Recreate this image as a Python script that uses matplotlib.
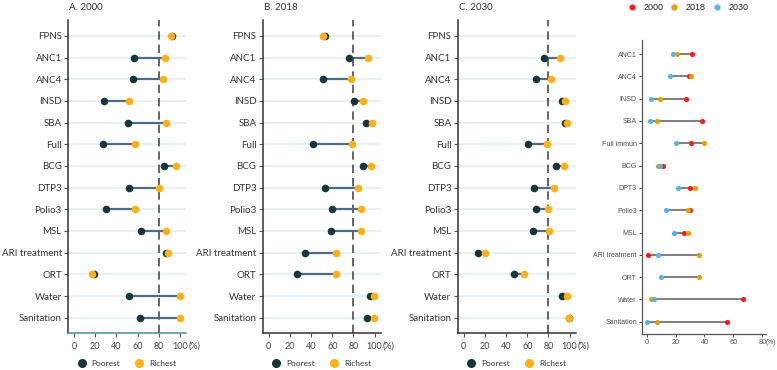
import matplotlib
matplotlib.use('Agg')
import matplotlib.pyplot as plt
from matplotlib.lines import Line2D
from matplotlib.patches import Patch
import numpy as np

nan = np.nan

# indicators used in panel A-C
cats = ['FPNS', 'ANC1', 'ANC4', 'INSD', 'SBA', 'Full', 'BCG', 'DTP3',
        'Polio3', 'MSL', 'ARI treatment', 'ORT', 'Water', 'Sanitation']

poor_2000 = [93, 57, 56, 28, 50.5, 27.6, 85, 52, 30, 63.5, 87, 18.4, 52, 62]
rich_2000 = [91.5, 86, 84, 52, 87, 57.5, 96, 80.6, 58, 87, 88.5, 17, 100, 100]
poor_2018 = [53, 76, 51, 81, 92, 42, 89.5, 53.5, 59.5, 58.5, 34, 27, 95.6, 92.7]
rich_2018 = [51.3, 94, 77.5, 89, 98, 79, 97, 84, 87, 86.7, 63.6, 63.6, 99.4, 99.4]
poor_2030 = [nan, 76, 68, 92.4, 96, 61, 87, 66, 68, 65, 13.6, 47, 92.4, 99]
rich_2030 = [nan, 91, 82, 95.6, 97.8, 78.5, 94.6, 85, 80, 81, 20, 57, 97.5, 99.4]

titles = ['A. 2000', 'B. 2018', 'C. 2030']
xticks = [0, 20, 40, 60, 80, 100]

# gap between richest and poorest (right panel)
gap_cats = ['ANC1', 'ANC4', 'INSD', 'SBA', 'Full immun', 'BCG', 'DPT3',
            'Polio3', 'MSL', 'ARI treatment', 'ORT', 'Water', 'Sanitation']
gap_2000 = [31.1, 29, 27, 38.5, 30.9, 11.5, 30, 29.8, 25.8, 1.2, nan, 66.4, 55.4]
gap_2018 = [21, 30.4, 9.2, 7.4, 39.4, 7.6, 33.4, 28.4, 28.6, 36.2, 36.4, 3, 7.4]
gap_2030 = [18, 15.9, 3.2, 2.5, 20.3, 9.5, 21.9, 13.4, 19.1, 8, 10, 5.3, 0.5]
gap_years = ['2000', '2018', '2030']
gap_ticks = [0, 20, 40, 60, 80]

POOR = '#17363a'
RICH = '#fbb117'
SEG = '#4d6b87'
GRID = '#e2ecf1'
TXT = '#333333'
YEAR_COLS = ['#ff1a1a', '#e69f00', '#56b4e9']
ARIAL = ['Liberation Sans', 'DejaVu Sans']

plt.rcParams['font.family'] = ['Lato', 'DejaVu Sans']

fig = plt.figure(figsize=(7.77, 3.70), dpi=100)

lefts = [68 / 777, 262.7 / 777, 457.7 / 777]
panels = [(poor_2000, rich_2000), (poor_2018, rich_2018), (poor_2030, rich_2030)]
y = np.arange(len(cats))

for k in range(3):
    ax = fig.add_axes([lefts[k], 0.0992, 118 / 777, 0.847])
    poor, rich = panels[k]
    for i in range(len(cats)):
        ax.axhline(y[i], color=GRID, lw=1.1, zorder=0)
    ax.axvline(80, color='#4a4a4a', lw=1.2, ls=(0, (5, 3)), zorder=1)
    ax.hlines(y, poor, rich, color=SEG, lw=1.6, zorder=2)
    ax.scatter(poor, y, s=30, color=POOR, zorder=3, linewidths=0)
    ax.scatter(rich, y, s=30, color=RICH, zorder=4, linewidths=0)

    ax.set_xlim(-5.8, 105.8)
    ax.set_ylim(13.72, -0.74)
    ax.set_yticks(y)
    ax.set_yticklabels(cats, fontsize=7, color=TXT)
    ax.set_xticks(xticks)
    ax.set_xticklabels([str(t) for t in xticks], fontsize=6.5, color='#444444')
    ax.tick_params(axis='y', length=3, width=0.8, color='#555555', pad=1.5)
    ax.tick_params(axis='x', length=3, width=0.8, color='#555555', pad=3)
    ax.annotate('(%)', xy=(100, 0), xycoords=('data', 'axes fraction'),
                xytext=(6, -6), textcoords='offset points', ha='left', va='top',
                fontsize=6.5, color='#444444')

    for s in ['top', 'right']:
        ax.spines[s].set_visible(False)
    ax.spines['left'].set_color('#333333')
    ax.spines['left'].set_linewidth(1.1)
    ax.spines['bottom'].set_color('#4a8b9a' if k == 0 else '#333333')
    ax.spines['bottom'].set_linewidth(1.1)

    ax.text(0.01, 1.041, titles[k], transform=ax.transAxes, fontsize=7,
            color=TXT, ha='left', va='center')

    handles = [Line2D([], [], ls='', marker='o', ms=5.5, color=POOR, label='Poorest'),
               Line2D([], [], ls='', marker='o', ms=5.5, color=RICH, label='Richest')]
    ax.legend(handles=handles, loc='center', bbox_to_anchor=(0.5, -0.096), ncol=2,
              frameon=False, fontsize=6, handlelength=1.0, handletextpad=0.7,
              columnspacing=1.8, labelcolor=TXT)

# right panel: gap, ggplot look
axd = fig.add_axes([641.7 / 777, 0.0973, 124 / 777, 0.7946])
yd = np.arange(len(gap_cats))
g = np.array([gap_2000, gap_2018, gap_2030])
lo = np.nanmin(g, axis=0)
hi = np.nanmax(g, axis=0)
axd.hlines(yd, lo, hi, color='#5c5c5c', lw=1.1, zorder=1)
for j in range(3):
    axd.scatter(g[j], yd, s=14, color=YEAR_COLS[j], zorder=2 + j, linewidths=0)

axd.set_xlim(-3.5, 82.4)
axd.set_ylim(12.55, -0.63)
axd.set_yticks(yd)
axd.set_yticklabels(gap_cats, fontsize=5, color='#4d4d4d', family=ARIAL)
axd.set_xticks(gap_ticks)
axd.set_xticklabels([str(t) for t in gap_ticks], fontsize=5.2, color='#4d4d4d', family=ARIAL)
axd.tick_params(length=2, width=0.6, color='#333333', pad=1.5)
axd.annotate('(%)', xy=(80, 0), xycoords=('data', 'axes fraction'),
             xytext=(2.3, -3.5), textcoords='offset points', ha='left', va='top',
             fontsize=4.8, color='#4d4d4d', family=ARIAL)
for s in ['top', 'right']:
    axd.spines[s].set_visible(False)
axd.spines['left'].set_color('#555555')
axd.spines['bottom'].set_color('#555555')
axd.spines['left'].set_linewidth(0.9)
axd.spines['bottom'].set_linewidth(0.9)

# legend keys with the grey ggplot background
hd = [(Patch(facecolor='#f0f0f0', edgecolor='none'),
       Line2D([], [], ls='', marker='o', ms=3.3, color=YEAR_COLS[j]))
      for j in range(3)]
fig.legend(handles=hd, labels=gap_years, loc='center', bbox_to_anchor=(688 / 777, 1 - 7.5 / 370),
           ncol=3, frameon=False, prop={'family': ARIAL, 'size': 6.5},
           handletextpad=0.8, columnspacing=0.8, handlelength=0.9, handleheight=1.1,
           labelcolor='#222222')

fig.savefig('out.png', dpi=100)
